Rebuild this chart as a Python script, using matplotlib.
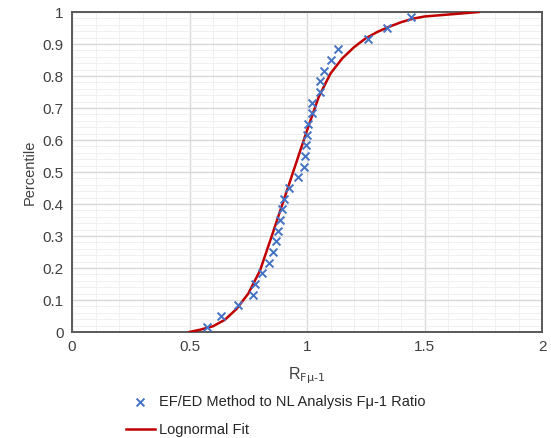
import matplotlib.pyplot as plt
import numpy as np

plt.rcParams['font.family'] = ['Liberation Sans', 'DejaVu Sans']

# EF/ED method to NL analysis ratio (30 samples)
ratio = [0.573, 0.633, 0.708, 0.772, 0.779, 0.810, 0.840, 0.855, 0.866,
         0.875, 0.885, 0.892, 0.903, 0.923, 0.963, 0.989, 0.991, 0.996,
         1.000, 1.003, 1.020, 1.023, 1.055, 1.057, 1.072, 1.100, 1.130,
         1.261, 1.339, 1.441]
pct = [0.017, 0.050, 0.083, 0.117, 0.150, 0.183, 0.217, 0.250, 0.283,
       0.317, 0.350, 0.383, 0.417, 0.450, 0.483, 0.517, 0.550, 0.583,
       0.617, 0.650, 0.683, 0.717, 0.750, 0.783, 0.817, 0.850, 0.883,
       0.917, 0.950, 0.983]

# lognormal fit curve
fit_x = [0.50, 0.55, 0.60, 0.65, 0.70, 0.75, 0.80, 0.85, 0.90, 0.95, 1.00,
         1.05, 1.10, 1.15, 1.20, 1.25, 1.30, 1.35, 1.40, 1.45, 1.50, 1.55,
         1.60, 1.65, 1.73]
fit_p = [0.000, 0.008, 0.018, 0.038, 0.072, 0.120, 0.192, 0.300, 0.410,
         0.520, 0.630, 0.735, 0.808, 0.855, 0.890, 0.918, 0.938, 0.954,
         0.968, 0.979, 0.986, 0.989, 0.992, 0.995, 1.000]

x_ticks = [0, 0.5, 1, 1.5, 2]
x_labels = ['0', '0.5', '1', '1.5', '2']
y_ticks = [0, 0.1, 0.2, 0.3, 0.4, 0.5, 0.6, 0.7, 0.8, 0.9, 1]
y_labels = ['0', '0.1', '0.2', '0.3', '0.4', '0.5', '0.6', '0.7', '0.8', '0.9', '1']

fig = plt.figure(figsize=(5.51, 4.38), dpi=100)
ax = fig.add_axes([0.1307, 0.242, 0.853, 0.7306])

ax.plot(fit_x, fit_p, color='#C00000', lw=1.8, label='Lognormal Fit', zorder=3)
ax.scatter(ratio, pct, marker='x', color='#4472C4', s=32, linewidths=1.4,
           label='EF/ED Method to NL Analysis Fμ-1 Ratio', zorder=4)

ax.set_xlim(0, 2)
ax.set_ylim(0, 1)
ax.set_xticks(x_ticks, x_labels)
ax.set_yticks(y_ticks, y_labels)
ax.set_xticks(np.arange(0, 2.001, 0.1), minor=True)
ax.set_yticks(np.arange(0, 1.001, 0.02), minor=True)
ax.grid(which='major', color='#d9d9d9', lw=1.0)
ax.grid(which='minor', color='#f0f0f0', lw=0.7)
ax.set_axisbelow(True)
ax.tick_params(which='both', length=0, labelsize=11, colors='#404040', pad=6)
for s in ax.spines.values():
    s.set_color('#595959')
    s.set_linewidth(1.4)

ax.set_xlabel('R$_{\\text{Fμ-1}}$', fontsize=11.5, color='#404040', labelpad=8)
ax.set_ylabel('Percentile', fontsize=10.5, color='#404040', labelpad=4)

h, l = ax.get_legend_handles_labels()
fig.legend(h[::-1], l[::-1], loc='upper left',
           bbox_to_anchor=(120 / 551, 1 - 389 / 438),
           frameon=False, fontsize=10.5, handlelength=2.0, handletextpad=0.3,
           labelspacing=0.95, borderaxespad=0, labelcolor='#262626')

fig.savefig('out.png', dpi=100)
